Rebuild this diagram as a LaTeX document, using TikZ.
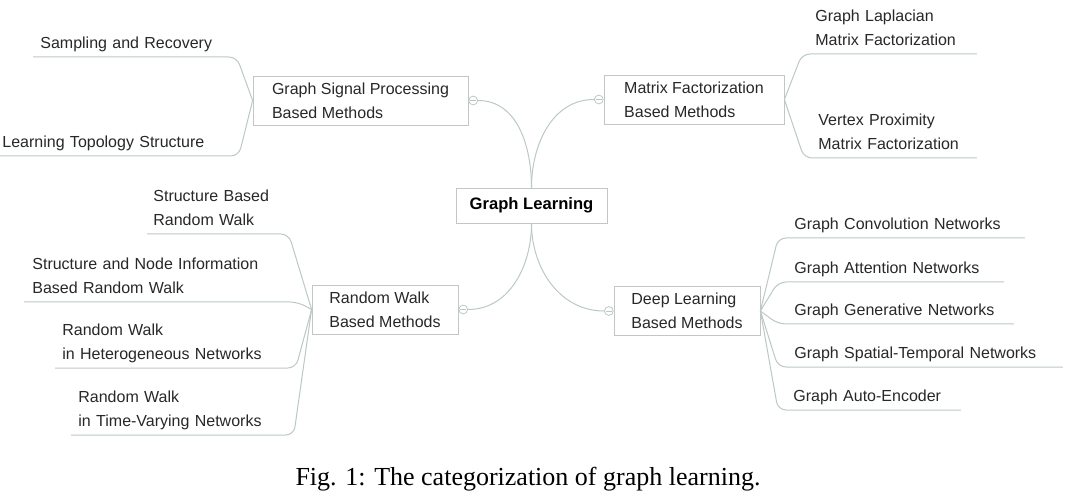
\documentclass[tikz,border=0pt]{standalone}
\usepackage{fontspec}
\setmainfont{Liberation Sans}
\newfontfamily\capfont{Liberation Serif}
\usepackage{tikz}
\usetikzlibrary{positioning}
\definecolor{linkgray}{RGB}{188,200,200}
\definecolor{boxgray}{RGB}{195,198,198}
\definecolor{txtgray}{RGB}{40,40,40}

\begin{document}
\begin{tikzpicture}[
  x=0.5pt, y=-0.5pt,
  root/.style   = {draw=boxgray, fill=white, font=\fontsize{8.3}{12}\selectfont\bfseries,
                   minimum width=75.5pt, minimum height=17.5pt},
  branch/.style = {draw=boxgray, fill=white, text=txtgray, font=\fontsize{8}{12}\selectfont,
                   align=left, minimum height=23.5pt},
  leaf/.style   = {anchor=south west, text=txtgray, font=\fontsize{8}{12}\selectfont,
                   align=left, execute at end node=\strut, inner ysep=0.6pt, inner xsep=8pt},
  fold/.style   = {circle, draw=linkgray, fill=white, minimum size=4.4pt, inner sep=0pt,
                   path picture={\draw[linkgray, line width=0.4pt]
                     ([xshift=0.8pt]path picture bounding box.west) --
                     ([xshift=-0.8pt]path picture bounding box.east);}},
  link/.style   = {draw=linkgray, line width=0.5pt},
  fan/.style    = {link, rounded corners=4pt},
]
\path[use as bounding box, fill=white] (0,0) rectangle (1080,496);

% ── Root and the four method families ───────────────────────────────────────
\node[root] (gl) at (531.5,205.5) {Graph Learning};
\node[branch, minimum width=107.5pt] (gsp) at (360.5,100.5) {Graph Signal Processing\\Based Methods};
\node[branch, minimum width=90pt]    (mf)  at (694,99.5)    {Matrix Factorization\\Based Methods};
\node[branch, minimum width=73pt]    (rw)  at (385,309.5)   {Random Walk\\Based Methods};
\node[branch, minimum width=73pt]    (dl)  at (687,311)     {Deep Learning\\Based Methods};

\node[fold, right=0pt of gsp] (gspf) {};
\node[fold, left=0pt of mf]   (mff)  {};
\node[fold, right=0pt of rw]  (rwf)  {};
\node[fold, left=0pt of dl]   (dlf)  {};

\draw[link] (gl.north) to[out=90, in=0]    (gspf.east);
\draw[link] (gl.north) to[out=90, in=180]  (mff.west);
\draw[link] (gl.south) to[out=-90, in=0]   (rwf.east);
\draw[link] (gl.south) to[out=-90, in=180] (dlf.west);

% ── Graph signal processing ─────────────────────────────────────────────────
\node[leaf, inner xsep=3.5pt, text width=94.5pt] (sr)  at (33,57) {Sampling and Recovery};
\node[leaf, inner xsep=1pt,   text width=117pt]  (lts) at (0,156) {Learning Topology Structure};

\draw[fan] (gsp.west) -- (sr.south east)  -- (sr.south west);
\draw[fan] (gsp.west) -- (lts.south east) -- (lts.south west);

% ── Matrix factorization ────────────────────────────────────────────────────
\node[leaf, inner xsep=6.5pt, text width=74pt] (glmf) at (802,54)  {Graph Laplacian\\Matrix Factorization};
\node[leaf, inner xsep=7pt,   text width=72pt] (vpmf) at (804,158) {Vertex Proximity\\Matrix Factorization};

\draw[fan] (mf.east) -- (glmf.south west) -- (glmf.south east);
\draw[fan] (mf.east) -- (vpmf.south west) -- (vpmf.south east);

% ── Random walk ─────────────────────────────────────────────────────────────
\node[leaf, inner xsep=3pt,   text width=64.5pt]  (sbrw) at (147,234) {Structure Based\\Random Walk};
\node[leaf, inner xsep=4pt,   text width=128.5pt] (sni)  at (24,302)  {Structure and Node Information\\Based Random Walk};
\node[leaf, inner xsep=3.5pt, text width=113pt]   (rwh)  at (55,368)  {Random Walk\\in Heterogeneous Networks};
\node[leaf, inner xsep=3.5pt, text width=104pt]   (rwt)  at (71,435)  {Random Walk\\in Time-Varying Networks};

\foreach \leafname in {sbrw,sni,rwh,rwt}
  \draw[fan] (rw.west) -- (\leafname.south east) -- (\leafname.south west);

% ── Deep learning ───────────────────────────────────────────────────────────
\node[leaf, text width=107pt]   (gcn)  at (778,238) {Graph Convolution Networks};
\node[leaf, text width=96.5pt]  (gan)  at (778,282) {Graph Attention Networks};
\node[leaf, text width=101.5pt] (ggn)  at (778,324) {Graph Generative Networks};
\node[leaf, text width=126pt]   (gstn) at (778,367) {Graph Spatial-Temporal Networks};
\node[leaf, inner xsep=7.5pt, text width=76pt] (gae) at (778,410) {Graph Auto-Encoder};

\foreach \leafname in {gcn,gan,ggn,gstn,gae}
  \draw[fan] (dl.east) -- (\leafname.south west) -- (\leafname.south east);

% ── Caption ─────────────────────────────────────────────────────────────────
\node[font=\capfont\fontsize{13}{15}\selectfont] (cap) at (528,479)
  {Fig. 1: The categorization of graph learning.};

\end{tikzpicture}
\end{document}
